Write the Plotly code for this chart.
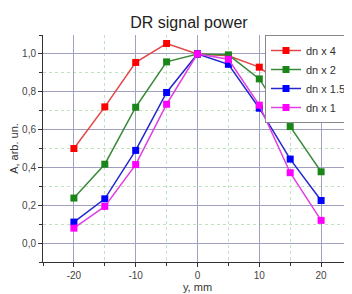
import plotly.graph_objects as go

x_mm = [-20, -15, -10, -5, 0, 5, 10, 15, 20]
dn4 = [0.50, 0.72, 0.955, 1.055, 1.0, 0.99, 0.93, 0.80, 0.672]
dn2 = [0.238, 0.417, 0.718, 0.958, 1.0, 0.995, 0.868, 0.616, 0.377]
dn15 = [0.111, 0.234, 0.49, 0.796, 1.0, 0.945, 0.713, 0.444, 0.225]
dn1 = [0.079, 0.194, 0.415, 0.734, 1.0, 0.972, 0.729, 0.372, 0.12]

series = [
    ("dn x 4", dn4, "#e04848", "#ff0000"),
    ("dn x 2", dn2, "#3a8a3a", "#1a861a"),
    ("dn x 1.5", dn15, "#2626d0", "#0000ff"),
    ("dn x 1", dn1, "#e040e0", "#ff00ff"),
]

fig = go.Figure()
for name, ys, lc, mc in series:
    fig.add_trace(go.Scatter(
        x=x_mm, y=ys, name=name, mode="lines+markers",
        line=dict(color=lc, width=1.5),
        marker=dict(symbol="square", size=7, color=mc),
    ))

# The page body has an 8px default margin, so the figure is sized to fill the rest of the window.
font_family = "Liberation Sans, Arial, sans-serif"
fig.update_layout(
    width=344, height=286,
    margin=dict(l=35, r=0, t=27, b=32, autoexpand=False),
    paper_bgcolor="white", plot_bgcolor="white",
    separators=",.",
    font=dict(family=font_family, size=10, color="#444"),
    title=dict(text="DR signal power", x=0.526, xanchor="center", y=0.948, yanchor="middle",
               font=dict(size=16, color="#222", family=font_family)),
    showlegend=True,
    legend=dict(x=1, xanchor="right", y=1, yanchor="top",
                bgcolor="white", bordercolor="#888", borderwidth=1,
                font=dict(size=11, color="#333"), tracegroupgap=0,
                itemwidth=30),
    xaxis=dict(range=[-25, 25], tickvals=[-20, -10, 0, 10, 20], ticktext=["-20", "-10", "0", "10", "20"],
               showline=True, linecolor="#333", linewidth=1, ticks="outside", ticklen=4,
               tickcolor="#333", showgrid=True, gridcolor="#a0a0c0", gridwidth=1, zeroline=False,
               minor=dict(dtick=5, tick0=-25, ticks="outside", ticklen=3, tickcolor="#333",
                          showgrid=True, gridcolor="#bfe3bf", griddash="dot"),
               title=dict(text="y, mm", font=dict(size=11, color="#333"), standoff=3),
               tickfont=dict(size=10, color="#444")),
    yaxis=dict(range=[-0.1, 1.1], tickvals=[0, 0.2, 0.4, 0.6, 0.8, 1.0], tickformat=".1f",
               showline=True, linecolor="#333", linewidth=1, ticks="outside", ticklen=4,
               tickcolor="#333", showgrid=True, gridcolor="#a0a0c0", gridwidth=1, zeroline=False,
               minor=dict(dtick=0.1, tick0=0, ticks="outside", ticklen=3, tickcolor="#333",
                          showgrid=True, gridcolor="#bfe3bf", griddash="dot"),
               title=dict(text="A, arb. un.", font=dict(size=11, color="#333"), standoff=5),
               tickfont=dict(size=10, color="#444")),
)

fig.write_html("out.html")
